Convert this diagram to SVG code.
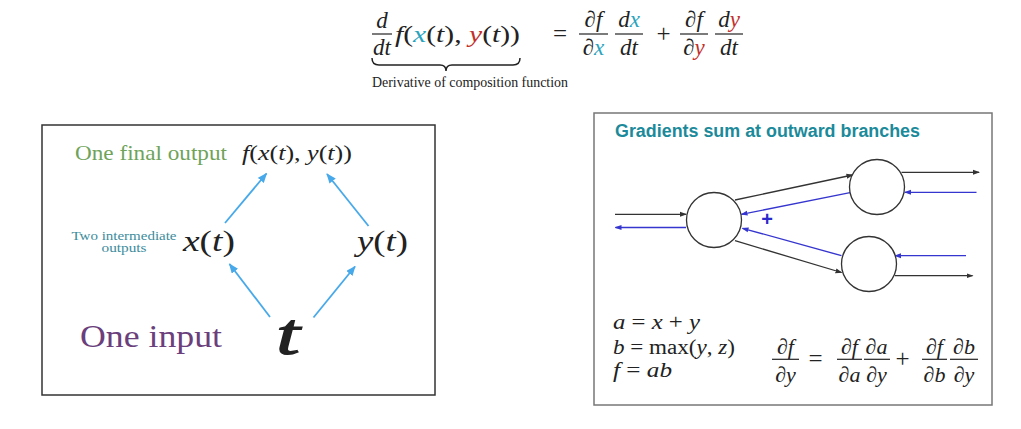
<svg xmlns="http://www.w3.org/2000/svg" width="1021" height="429" viewBox="0 0 1021 429">
<defs>
<style>
.m{font-family:"Liberation Serif","DejaVu Serif",serif;font-style:italic;fill:#222}
.r{font-family:"Liberation Serif","DejaVu Serif",serif;font-style:normal;fill:#222}
.c{text-anchor:middle}
.bar{stroke:#222;stroke-width:1.2}
.cx{fill:#2aa3bd}
.cy{fill:#c2302b}
.bl{fill:none;stroke:#47a9ea;stroke-width:1.8}
.k{fill:none;stroke:#333;stroke-width:1.3}
.u{fill:none;stroke:#3535cf;stroke-width:1.3}
.node{fill:#fff;stroke:#333;stroke-width:1.3}
</style>
<marker id="ab" markerUnits="userSpaceOnUse" markerWidth="10" markerHeight="8" refX="9" refY="4" orient="auto"><path d="M0,0 L10,4 L0,8 z" fill="#47a9ea"/></marker>
<marker id="ak" markerUnits="userSpaceOnUse" markerWidth="7" markerHeight="6" refX="6" refY="3" orient="auto"><path d="M0,0.5 L7,3 L0,5.5 z" fill="#333"/></marker>
<marker id="au" markerUnits="userSpaceOnUse" markerWidth="7" markerHeight="6" refX="6" refY="3" orient="auto"><path d="M0,0.5 L7,3 L0,5.5 z" fill="#3535cf"/></marker>
</defs>
<rect width="1021" height="429" fill="#fff"/>

<!-- Top formula -->
<g id="formula" font-size="23">
<text class="m c" x="382" y="28">d</text>
<line class="bar" x1="372" y1="34" x2="392" y2="34"/>
<text class="m c" x="382" y="55">dt</text>
<text class="m" x="395" y="42" textLength="125" lengthAdjust="spacingAndGlyphs">f<tspan class="r">(</tspan><tspan class="cx">x</tspan><tspan class="r">(</tspan>t<tspan class="r">), </tspan><tspan class="cy">y</tspan><tspan class="r">(</tspan>t<tspan class="r">))</tspan></text>
<path d="M372,58 Q372,65 379,65 L440,65 Q446,65 446,71 Q446,65 452,65 L513,65 Q520,65 520,58" fill="none" stroke="#222" stroke-width="1.5"/>
<text class="r" x="372" y="87" font-size="15" textLength="196" lengthAdjust="spacingAndGlyphs">Derivative of composition function</text>
<text class="r c" x="560" y="42" font-size="25">=</text>
<text class="m c" x="593.5" y="27">∂f</text>
<line class="bar" x1="579" y1="34" x2="608" y2="34"/>
<text class="m c" x="593.5" y="55">∂<tspan class="cx">x</tspan></text>
<text class="m c" x="629" y="27">d<tspan class="cx">x</tspan></text>
<line class="bar" x1="615" y1="34" x2="643" y2="34"/>
<text class="m c" x="629" y="55">dt</text>
<text class="r c" x="663.5" y="42" font-size="25">+</text>
<text class="m c" x="694" y="27">∂f</text>
<line class="bar" x1="680" y1="34" x2="708" y2="34"/>
<text class="m c" x="694" y="55">∂<tspan class="cy">y</tspan></text>
<text class="m c" x="729" y="27">d<tspan class="cy">y</tspan></text>
<line class="bar" x1="715" y1="34" x2="743" y2="34"/>
<text class="m c" x="729" y="55">dt</text>
</g>

<!-- Left panel -->
<rect x="42" y="125" width="393" height="270" fill="none" stroke="#333" stroke-width="1.5"/>
<g id="label-final"><text class="r" x="75" y="160" font-size="21" style="fill:#6fa35a" textLength="152" lengthAdjust="spacingAndGlyphs">One final output</text></g>
<g id="node-f"><text class="m" x="242" y="160" font-size="21" textLength="110" lengthAdjust="spacingAndGlyphs">f<tspan class="r">(</tspan>x<tspan class="r">(</tspan>t<tspan class="r">), </tspan>y<tspan class="r">(</tspan>t<tspan class="r">))</tspan></text></g>
<g id="label-intermediate"><text class="r c" x="124" y="240" font-size="12.5" style="fill:#3c8c9c" textLength="105" lengthAdjust="spacingAndGlyphs">Two intermediate</text><text class="r c" x="124" y="252" font-size="12.5" style="fill:#3c8c9c" textLength="45" lengthAdjust="spacingAndGlyphs">outputs</text></g>
<g id="node-x"><text class="m" x="183" y="251" font-size="30" textLength="52" lengthAdjust="spacingAndGlyphs">x<tspan class="r">(</tspan>t<tspan class="r">)</tspan></text></g>
<g id="node-y"><text class="m" x="357" y="251" font-size="30" textLength="51" lengthAdjust="spacingAndGlyphs">y<tspan class="r">(</tspan>t<tspan class="r">)</tspan></text></g>
<g id="label-input"><text class="r" x="80" y="347" font-size="31" style="fill:#6b3f7c" textLength="142" lengthAdjust="spacingAndGlyphs">One input</text></g>
<g id="node-t"><text class="m" x="276" y="354" font-size="60" stroke="#222" stroke-width="1.2" textLength="24" lengthAdjust="spacingAndGlyphs">t</text></g>
<g id="left-connectors">
<line class="bl" x1="225" y1="223" x2="266.5" y2="173.5" marker-end="url(#ab)"/>
<line class="bl" x1="368.5" y1="226" x2="327" y2="174" marker-end="url(#ab)"/>
<line class="bl" x1="270" y1="317" x2="229.5" y2="264" marker-end="url(#ab)"/>
<line class="bl" x1="313.5" y1="317.5" x2="355" y2="266.5" marker-end="url(#ab)"/>
</g>

<!-- Right panel -->
<rect x="594" y="113" width="398" height="292" fill="none" stroke="#777" stroke-width="1.5"/>
<g id="title"><text x="615" y="137" font-family="'Liberation Sans','DejaVu Sans',sans-serif" font-weight="bold" font-size="18" fill="#1b8a9a" textLength="305" lengthAdjust="spacingAndGlyphs">Gradients sum at outward branches</text></g>
<g id="right-connectors">
<line class="k" x1="615" y1="214.3" x2="686" y2="214.3" marker-end="url(#ak)"/>
<line class="u" x1="686" y1="227.5" x2="615.5" y2="227.5" marker-end="url(#au)"/>
<line class="k" x1="735" y1="200" x2="852.5" y2="175" marker-end="url(#ak)"/>
<line class="u" x1="850" y1="192.7" x2="741.5" y2="214.3" marker-end="url(#au)"/>
<line class="u" x1="841.5" y1="255.7" x2="742.5" y2="228.3" marker-end="url(#au)"/>
<line class="k" x1="735" y1="240.7" x2="841.5" y2="272.5" marker-end="url(#ak)"/>
<line class="k" x1="901.5" y1="172.3" x2="979" y2="172.3" marker-end="url(#ak)"/>
<line class="u" x1="976.5" y1="192.3" x2="905" y2="192.3" marker-end="url(#au)"/>
<line class="u" x1="966" y1="255.7" x2="895" y2="255.7" marker-end="url(#au)"/>
<line class="k" x1="895" y1="275.7" x2="972.5" y2="275.7" marker-end="url(#ak)"/>
<text x="767" y="226" text-anchor="middle" font-family="'Liberation Sans','DejaVu Sans',sans-serif" font-weight="bold" font-size="20" fill="#2a2acc">+</text>
</g>
<g id="node-1"><circle class="node" cx="714" cy="220" r="27.5"/></g>
<g id="node-2"><circle class="node" cx="877" cy="187" r="27.5"/></g>
<g id="node-3"><circle class="node" cx="869" cy="264" r="27.5"/></g>

<g id="equations" font-size="20">
<text class="m" x="613" y="329" textLength="87" lengthAdjust="spacingAndGlyphs">a <tspan class="r">=</tspan> x <tspan class="r">+</tspan> y</text>
<text class="m" x="613" y="354" textLength="122" lengthAdjust="spacingAndGlyphs">b <tspan class="r">= max(</tspan>y<tspan class="r">, </tspan>z<tspan class="r">)</tspan></text>
<text class="m" x="613" y="377" textLength="59" lengthAdjust="spacingAndGlyphs">f <tspan class="r">=</tspan> ab</text>
</g>
<g id="chain" font-size="22">
<text class="m c" x="785.5" y="354">∂f</text>
<line class="bar" x1="772" y1="359.3" x2="799" y2="359.3"/>
<text class="m c" x="785.5" y="382">∂y</text>
<text class="r c" x="815.5" y="367" font-size="25">=</text>
<text class="m c" x="849.5" y="354">∂f</text>
<line class="bar" x1="837" y1="359.3" x2="862" y2="359.3"/>
<text class="m c" x="849.5" y="382">∂a</text>
<text class="m c" x="876.5" y="354">∂a</text>
<line class="bar" x1="864" y1="359.3" x2="890" y2="359.3"/>
<text class="m c" x="876.5" y="382">∂y</text>
<text class="r c" x="902.5" y="367" font-size="25">+</text>
<text class="m c" x="934.5" y="354">∂f</text>
<line class="bar" x1="922" y1="359.3" x2="947" y2="359.3"/>
<text class="m c" x="934.5" y="382">∂b</text>
<text class="m c" x="964" y="354">∂b</text>
<line class="bar" x1="950" y1="359.3" x2="978" y2="359.3"/>
<text class="m c" x="964" y="382">∂y</text>
</g>
</svg>
